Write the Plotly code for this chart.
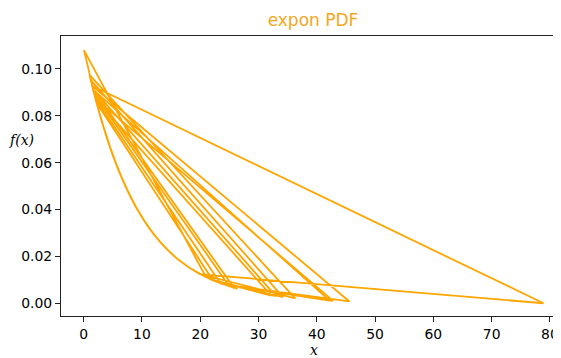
import plotly.graph_objects as go

# Points on the expon PDF curve (x, f(x))
CURVE_X = [0.05, 1.0, 1.2, 1.3, 1.45, 1.6, 1.8, 2.0, 2.2, 3.0,
           4, 5, 6, 7, 8, 9, 10, 11, 12, 13, 14, 15, 16, 18, 20, 22, 24]
CURVE_Y = [0.10801, 0.09743, 0.09533, 0.09430, 0.09278, 0.09128, 0.08932,
           0.08740, 0.08553, 0.07840, 0.07034, 0.06310, 0.05661, 0.05079, 0.04556,
           0.04087, 0.03667, 0.03289, 0.02951, 0.02647, 0.02375, 0.02131, 0.01911,
           0.01538, 0.01238, 0.00996, 0.00802]

# Each run of samples: first x on the curve, last dense x on the curve, then a tail sample
RUN_START = [1.3, 0.05, 2.2, 2.0, 1.8, 1.45, 1.2, 2.0, 1.45, 1.0, 1.6, 2.0, 1.6, 1.6]
RUN_END = [20, 20, 22, 20, 24, 22, 20, 20, 20, 22, 24, 22, 24, 22]
TAIL_X = [21.0, 22.2, 32.2, 25.0, 45.6, 34.2, 23.5, 78.9, 36.3, 25.8, 42.8, 33.0, 42.2, 26.4]
TAIL_Y = [0.01111, 0.00975, 0.00329, 0.00720, 0.00077, 0.00265, 0.00847, 0.00002,
          0.00211, 0.00659, 0.00104, 0.00302, 0.00111, 0.00618]

X_TICKS = [0, 10, 20, 30, 40, 50, 60, 70, 80]
Y_TICKS = [0.00, 0.02, 0.04, 0.06, 0.08, 0.10]

xs, ys = [], []
for s, e, tx, ty in zip(RUN_START, RUN_END, TAIL_X, TAIL_Y):
    i0 = CURVE_X.index(s)
    i1 = CURVE_X.index(e)
    xs += CURVE_X[i0:i1 + 1] + [tx]
    ys += CURVE_Y[i0:i1 + 1] + [ty]

fig = go.Figure()
fig.add_trace(go.Scatter(x=xs, y=ys, mode="lines",
                         line=dict(color="#FFA500", width=1.8),
                         showlegend=False, hoverinfo="skip"))

tickfont = dict(family="DejaVu Sans", size=13.9, color="#000000")
# the page body adds an 8px offset, so the layout is placed 8px up/left
fig.update_layout(
    width=561, height=358,
    margin=dict(l=53, r=8, t=28, b=50, autoexpand=False),
    paper_bgcolor="white", plot_bgcolor="white",
    title=dict(text="expon PDF", x=0.504, xref="paper", xanchor="center",
               y=1 - 12 / 358, yref="container", yanchor="middle",
               font=dict(family="DejaVu Sans", size=17, color="#F5A623")),
    xaxis=dict(range=[-3.89, 81.9], tickvals=X_TICKS, ticktext=[str(v) for v in X_TICKS],
               showgrid=False, zeroline=False, showline=True, linecolor="#222222",
               linewidth=1, mirror=True, ticks="outside", ticklen=5, tickwidth=1,
               tickcolor="#222222", tickfont=tickfont, automargin=False),
    yaxis=dict(range=[-0.00543, 0.11403], tickvals=Y_TICKS, tickformat=".2f",
               showgrid=False, zeroline=False, showline=True, linecolor="#222222",
               linewidth=1, mirror=False, ticks="outside", ticklen=5, tickwidth=1,
               tickcolor="#222222", tickfont=tickfont, automargin=False),
    annotations=[
        dict(text="<i>f(x)</i>", xref="paper", yref="paper", x=-0.08, y=0.629,
             xanchor="center", yanchor="middle", showarrow=False,
             font=dict(family="DejaVu Serif", size=14, color="#000000")),
        dict(text="<i>x</i>", xref="paper", yref="paper", x=0.506, y=-0.121,
             xanchor="center", yanchor="middle", showarrow=False,
             font=dict(family="DejaVu Serif", size=14, color="#000000")),
    ],
)

fig.write_html("out.html")
